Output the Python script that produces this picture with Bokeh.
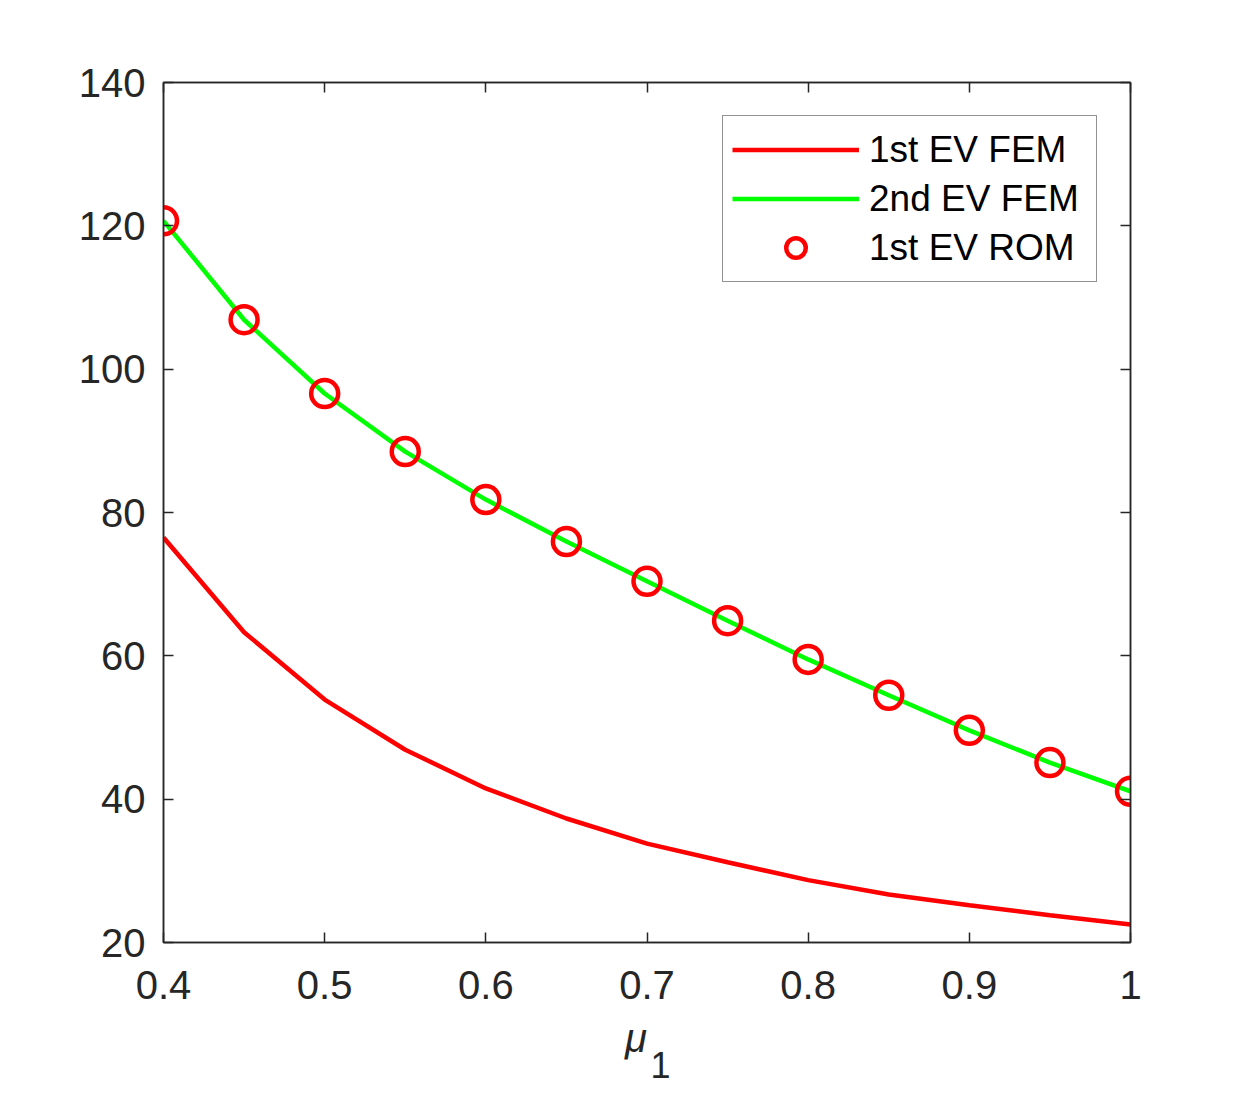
from bokeh.plotting import figure
from bokeh.models import FixedTicker, LinearAxis, Range1d, Legend, LegendItem, Title
from bokeh.embed import file_html
from bokeh.resources import INLINE

mu = [0.4, 0.45, 0.5, 0.55, 0.6, 0.65, 0.7, 0.75, 0.8, 0.85, 0.9, 0.95, 1.0]
ev1_fem = [76.5, 63.3, 53.9, 46.9, 41.5, 37.3, 33.8, 31.2, 28.7, 26.7, 25.2, 23.8, 22.5]
ev2_fem = [120.7, 106.9, 96.6, 88.5, 81.8, 75.95, 70.4, 64.9, 59.5, 54.5, 49.6, 45.1, 41.1]
ev1_rom = [120.7, 106.9, 96.6, 88.5, 81.8, 75.95, 70.4, 64.9, 59.5, 54.5, 49.6, 45.1, 41.1]
x_ticks = [0.4, 0.5, 0.6, 0.7, 0.8, 0.9, 1.0]
y_ticks = [20, 40, 60, 80, 100, 120, 140]

FONT = "Liberation Sans"
AX = "#262626"

p = figure(width=1234, height=1078, output_backend="svg", toolbar_location=None,
           x_range=Range1d(0.4, 1.0), y_range=Range1d(20, 140),
           min_border_left=163, min_border_right=104, min_border_top=82, min_border_bottom=136,
           x_axis_location=None, y_axis_location=None)
p.xgrid.visible = False
p.ygrid.visible = False
p.outline_line_color = AX
p.outline_line_width = 1.5
p.background_fill_color = "white"
p.border_fill_color = "white"

def style(ax, labels=True):
    ax.axis_line_color = AX
    ax.axis_line_width = 1.5
    ax.major_tick_line_color = AX
    ax.major_tick_line_width = 1.5
    ax.major_tick_in = 10
    ax.major_tick_out = 0
    ax.minor_tick_line_color = None
    ax.major_label_text_font = FONT
    ax.major_label_text_font_size = "40px"
    ax.major_label_text_color = AX
    if not labels:
        ax.major_label_text_font_size = "0px"
        ax.major_label_text_color = None

xb = LinearAxis(ticker=FixedTicker(ticks=x_ticks))
xb.major_label_overrides = {0.4: "0.4", 0.5: "0.5", 0.6: "0.6", 0.7: "0.7", 0.8: "0.8", 0.9: "0.9", 1.0: "1"}
style(xb)
xb.major_label_standoff = 28
xb.axis_label = "μ\u00a0\u00a0"
xb.axis_label_text_font = FONT
xb.axis_label_text_font_style = "italic"
xb.axis_label_text_font_size = "40px"
xb.axis_label_text_color = AX
xb.axis_label_standoff = 14
p.add_layout(xb, "below")

sub = Title(text="1", align="left", offset=487, standoff=-30,
            text_font="Arial", text_font_size="36px", text_font_style="normal",
            text_color=AX, vertical_align="bottom")
p.add_layout(sub, "below")

yl = LinearAxis(ticker=FixedTicker(ticks=y_ticks))
style(yl)
yl.major_label_standoff = 18
p.add_layout(yl, "left")
xt = LinearAxis(ticker=FixedTicker(ticks=x_ticks))
style(xt, labels=False)
p.add_layout(xt, "above")
yr = LinearAxis(ticker=FixedTicker(ticks=y_ticks))
style(yr, labels=False)
p.add_layout(yr, "right")

r1 = p.line(mu, ev1_fem, line_color="#ff0000", line_width=4.5)
r2 = p.line(mu, ev2_fem, line_color="#00ff00", line_width=4.5)
r3 = p.scatter(mu, ev1_rom, marker="circle", size=27, fill_color=None,
               line_color="#ff0000", line_width=4.5)

legend = Legend(items=[LegendItem(label="1st EV FEM", renderers=[r1]),
                       LegendItem(label="2nd EV FEM", renderers=[r2]),
                       LegendItem(label="1st EV ROM", renderers=[r3])],
                location="top_right")
legend.margin = 33
legend.padding = 9
legend.spacing = 0
legend.glyph_width = 127
legend.glyph_height = 49
legend.label_height = 49
legend.label_width = 218
legend.label_standoff = 10
legend.label_text_font = FONT
legend.label_text_font_size = "37px"
legend.label_text_color = "black"
legend.border_line_color = AX
legend.border_line_width = 1.5
legend.background_fill_alpha = 1.0
p.add_layout(legend)

open("out.html", "w").write(file_html(p, INLINE))
